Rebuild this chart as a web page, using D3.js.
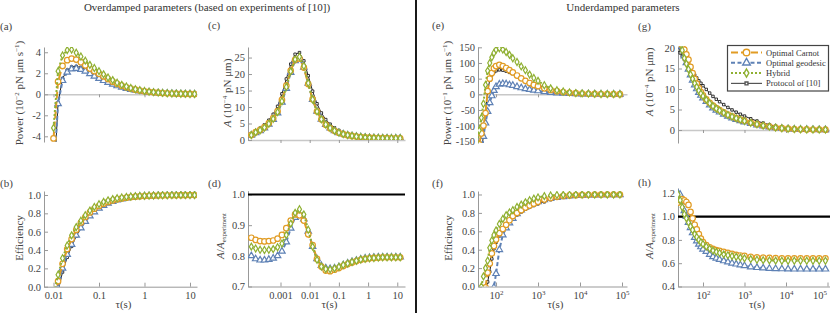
<!DOCTYPE html>
<html>
<head>
<meta charset="utf-8">
<title>Protocol comparison</title>
<style>
  body { margin: 0; background: #fff; }
  .tick text { font-size: 10.5px; fill: #444; }
  .axis-title { font-size: 11px; fill: #444; }
  .tag { font-size: 11px; fill: #444; }
  .head { font-size: 11px; fill: #333; }
  .legend text { font-size: 8.5px; fill: #333; }
</style>
</head>
<body>
<svg id="fig" width="830" height="313"></svg>
<script src="https://cdnjs.cloudflare.com/ajax/libs/d3/7.8.5/d3.min.js"></script>
<script>
"use strict";

var FONT = "Liberation Serif, DejaVu Serif, Times New Roman, serif";

// ---- overdamped: power and efficiency, tau in s ----
var tauOD = [0.01, 0.0126, 0.0158, 0.02, 0.025, 0.0316, 0.04, 0.05, 0.063, 0.079, 0.1, 0.126, 0.158, 0.2, 0.25, 0.316,
  0.4, 0.5, 0.63, 0.79, 1, 1.26, 1.58, 2, 2.5, 3.16, 4, 5, 6.3, 7.9, 10, 12.6];

var powerOD_carnot = [-4.2, 1.2, 2.7, 3.25, 3.4, 3.3, 3.05, 2.75, 2.45, 2.2, 1.95, 1.7, 1.45, 1.2, 1.0, 0.82,
  0.67, 0.55, 0.44, 0.36, 0.29, 0.23, 0.19, 0.15, 0.12, 0.095, 0.075, 0.06, 0.048, 0.038, 0.03, 0.024];
var powerOD_geodesic = [-8, -0.9, 1.3, 2.1, 2.4, 2.45, 2.35, 2.2, 1.95, 1.72, 1.5, 1.3, 1.12, 0.95, 0.8, 0.67,
  0.55, 0.45, 0.37, 0.3, 0.25, 0.2, 0.16, 0.13, 0.105, 0.085, 0.067, 0.053, 0.042, 0.034, 0.027, 0.021];
var powerOD_hybrid = [-3.2, 2.2, 3.7, 4.2, 4.25, 3.95, 3.6, 3.2, 2.8, 2.5, 2.2, 1.9, 1.6, 1.35, 1.1, 0.9,
  0.74, 0.6, 0.48, 0.39, 0.31, 0.25, 0.2, 0.16, 0.13, 0.1, 0.08, 0.063, 0.05, 0.04, 0.032, 0.025];
var powerOD_exp = [-9, -0.8, 1.5, 2.3, 2.6, 2.65, 2.55, 2.4, 2.15, 1.9, 1.7, 1.5, 1.3, 1.1, 0.92, 0.78,
  0.64, 0.52, 0.42, 0.34, 0.28, 0.22, 0.18, 0.145, 0.115, 0.092, 0.073, 0.058, 0.046, 0.037, 0.029, 0.023];

var effOD_carnot = [-0.2, 0.06, 0.25, 0.41, 0.52, 0.62, 0.7, 0.76, 0.81, 0.85, 0.88, 0.905, 0.925, 0.94, 0.953, 0.963,
  0.971, 0.977, 0.982, 0.986, 0.989, 0.991, 0.993, 0.994, 0.995, 0.996, 0.997, 0.997, 0.998, 0.998, 0.999, 0.999];
var effOD_geodesic = [-0.35, -0.02, 0.2, 0.35, 0.46, 0.56, 0.64, 0.71, 0.77, 0.815, 0.855, 0.885, 0.91, 0.93, 0.945, 0.957,
  0.967, 0.974, 0.98, 0.984, 0.988, 0.99, 0.992, 0.993, 0.994, 0.995, 0.996, 0.997, 0.997, 0.998, 0.998, 0.999];
var effOD_hybrid = [-0.1, 0.13, 0.31, 0.45, 0.56, 0.65, 0.72, 0.78, 0.83, 0.87, 0.9, 0.925, 0.942, 0.955, 0.965, 0.973,
  0.979, 0.984, 0.987, 0.99, 0.992, 0.994, 0.995, 0.996, 0.997, 0.997, 0.998, 0.998, 0.999, 0.999, 0.999, 0.999];
var effOD_exp = [-0.38, -0.05, 0.16, 0.32, 0.44, 0.55, 0.64, 0.71, 0.77, 0.82, 0.86, 0.89, 0.915, 0.935, 0.95, 0.961,
  0.97, 0.976, 0.981, 0.985, 0.988, 0.99, 0.992, 0.993, 0.994, 0.995, 0.996, 0.997, 0.997, 0.998, 0.998, 0.999];

// ---- overdamped: A and A/A_experiment ----
var tauAOD = [0.0001, 0.000141, 0.0002, 0.000282, 0.000398, 0.000562, 0.000794, 0.00112, 0.00158, 0.00224,
  0.00316, 0.00447, 0.00631, 0.00891, 0.0126, 0.0178, 0.0251, 0.0355, 0.0501, 0.0708,
  0.1, 0.141, 0.2, 0.282, 0.398, 0.562, 0.794, 1.12, 1.58, 2.24, 3.16, 4.47, 6.31, 8.91, 12.6];

var areaOD_exp = [1.8, 2.8, 3.6, 4.6, 6.0, 7.8, 10.2, 14.0, 18.5, 23.0, 26.0, 26.5, 24.0, 19.5, 14.8, 11.0, 8.2,
  6.2, 4.8, 3.7, 2.9, 2.3, 1.9, 1.6, 1.35, 1.15, 1.0, 0.9, 0.82, 0.76, 0.72, 0.69, 0.67, 0.66, 0.65];
var areaOD_carnot = [1.55, 2.39, 3.05, 3.9, 5.09, 6.63, 8.73, 12.15, 16.47, 21.05, 24.31, 24.7, 21.96, 16.97, 12.36,
  8.69, 6.27, 4.66, 3.6, 2.79, 2.2, 1.76, 1.47, 1.24, 1.06, 0.91, 0.79, 0.71, 0.65, 0.6, 0.57, 0.55, 0.53, 0.52, 0.52];
var areaOD_hybrid = [1.49, 2.31, 2.95, 3.77, 4.92, 6.41, 8.45, 11.76, 16.06, 20.82, 24.44, 25.23, 22.44, 17.26, 12.28,
  8.66, 6.27, 4.69, 3.63, 2.81, 2.22, 1.77, 1.47, 1.25, 1.06, 0.91, 0.79, 0.71, 0.65, 0.6, 0.57, 0.55, 0.53, 0.52, 0.52];
var areaOD_geodesic = [1.44, 2.21, 2.83, 3.62, 4.73, 6.18, 8.16, 11.41, 15.63, 20.47, 24.05, 24.78, 22.08, 17.16, 12.28,
  8.69, 6.3, 4.71, 3.64, 2.81, 2.22, 1.77, 1.47, 1.25, 1.06, 0.91, 0.79, 0.71, 0.65, 0.61, 0.57, 0.55, 0.53, 0.53, 0.52];

var ratioOD_carnot = [0.859, 0.852, 0.848, 0.847, 0.848, 0.85, 0.856, 0.868, 0.89, 0.915, 0.935, 0.932, 0.915, 0.87,
  0.835, 0.79, 0.765, 0.752, 0.75, 0.755, 0.76, 0.767, 0.773, 0.778, 0.783, 0.787, 0.79, 0.792, 0.793, 0.794,
  0.795, 0.795, 0.795, 0.795, 0.795];
var ratioOD_hybrid = [0.83, 0.824, 0.82, 0.819, 0.82, 0.822, 0.828, 0.84, 0.868, 0.905, 0.94, 0.952, 0.935, 0.885,
  0.83, 0.787, 0.765, 0.757, 0.756, 0.759, 0.764, 0.77, 0.775, 0.78, 0.784, 0.788, 0.79, 0.792, 0.793, 0.794,
  0.795, 0.795, 0.795, 0.795, 0.795];
var ratioOD_geodesic = [0.8, 0.79, 0.786, 0.786, 0.788, 0.792, 0.8, 0.815, 0.845, 0.89, 0.925, 0.935, 0.92, 0.88,
  0.83, 0.79, 0.768, 0.76, 0.758, 0.76, 0.764, 0.77, 0.776, 0.781, 0.785, 0.789, 0.792, 0.794, 0.795, 0.796,
  0.796, 0.796, 0.796, 0.796, 0.796];

// ---- underdamped ----
var tauUD = [25.1, 28.2, 31.6, 35.5, 39.8, 44.7, 50.1, 56.2, 63.1, 70.8, 79.4, 89.1, 100, 120, 145, 174, 209, 251,
  316, 398, 501, 631, 794, 1000, 1413, 1995, 2818, 3981, 5623, 7943, 11220, 15849, 22387, 31623, 44668, 63096, 89125];

var powerUD_carnot = [-500, -400, -320, -250, -160, -125, -100, -60, 10, 50, 68, 83, 90, 94, 90, 84, 77, 70, 60, 51,
  43, 36, 30, 26, 19, 14, 10, 7, 5, 3.5, 2.5, 1.8, 1.2, 0.9, 0.6, 0.4, 0.3];
var powerUD_geodesic = [-700, -580, -470, -380, -300, -220, -135, -92, -55, -27, -5, 12, 24, 32, 34, 33, 30, 28, 24,
  20.5, 17.5, 15, 13, 11, 8, 5.5, 4, 3, 2.2, 1.6, 1.2, 0.9, 0.6, 0.45, 0.3, 0.2, 0.15];
var powerUD_hybrid = [-420, -320, -230, -160, -115, -75, -30, 30, 75, 100, 118, 132, 142, 147, 143, 135, 126, 115, 103,
  89, 77, 63, 52, 43, 29, 19, 13, 9, 6, 4, 3, 2, 1.4, 1, 0.7, 0.5, 0.35];
var powerUD_exp = [-600, -500, -400, -320, -250, -190, -130, -55, 10, 45, 62, 71, 75, 78, 77, 74, 70, 66, 60, 53,
  46, 40, 34, 29, 23, 18, 13, 9.5, 7, 5, 3.5, 2.5, 1.8, 1.3, 0.9, 0.6, 0.4];

var effUD_carnot = [-2.5, -1.8, -1.3, -0.85, -0.55, -0.3, -0.12, -0.01, 0.15, 0.25, 0.36, 0.44, 0.51, 0.58, 0.625,
  0.67, 0.72, 0.765, 0.8, 0.83, 0.858, 0.88, 0.9, 0.92, 0.945, 0.962, 0.975, 0.984, 0.99, 0.993, 0.995, 0.997,
  0.998, 0.998, 0.999, 0.999, 0.999];
var effUD_geodesic = [-4, -3.2, -2.5, -1.9, -1.4, -1.0, -0.7, -0.48, -0.3, -0.18, -0.08, -0.01, 0.14, 0.4, 0.56,
  0.635, 0.69, 0.74, 0.79, 0.83, 0.862, 0.888, 0.908, 0.922, 0.942, 0.957, 0.968, 0.976, 0.983, 0.988, 0.991,
  0.994, 0.995, 0.996, 0.997, 0.998, 0.998];
var effUD_hybrid = [-2.0, -1.4, -0.9, -0.5, -0.15, 0.0, 0.11, 0.2, 0.28, 0.42, 0.5, 0.56, 0.61, 0.68, 0.735, 0.775,
  0.805, 0.83, 0.865, 0.89, 0.915, 0.938, 0.955, 0.968, 0.982, 0.99, 0.994, 0.996, 0.997, 0.998, 0.998, 0.999,
  0.999, 0.999, 0.999, 0.999, 0.999];
var effUD_exp = [-3, -2.2, -1.6, -1.1, -0.7, -0.42, -0.2, -0.06, 0.05, 0.16, 0.3, 0.41, 0.48, 0.55, 0.61, 0.655,
  0.7, 0.735, 0.778, 0.81, 0.84, 0.862, 0.88, 0.898, 0.92, 0.943, 0.96, 0.973, 0.982, 0.988, 0.992, 0.995,
  0.996, 0.997, 0.998, 0.998, 0.999];

var areaUD_exp = [19.5, 18.8, 18.0, 17.2, 16.4, 15.6, 14.8, 14.1, 13.4, 12.7, 12.0, 11.4, 10.8, 9.9, 9.0, 8.2, 7.5,
  6.9, 6.2, 5.5, 4.9, 4.35, 3.85, 3.4, 2.75, 2.2, 1.7, 1.3, 0.95, 0.7, 0.5, 0.36, 0.27, 0.21, 0.17, 0.15, 0.13];
var areaUD_carnot = [21.84, 21.43, 20.7, 19.61, 18.45, 17.16, 15.39, 13.89, 12.46, 11.3, 10.2, 9.23, 8.42, 7.47,
  6.63, 5.92, 5.34, 4.86, 4.32, 3.78, 3.33, 2.92, 2.56, 2.25, 1.8, 1.43, 1.1, 0.84, 0.61, 0.45, 0.32, 0.23, 0.17,
  0.13, 0.11, 0.096, 0.083];
var areaUD_hybrid = [23.2, 21.43, 19.44, 17.54, 16.15, 14.82, 13.54, 12.48, 11.39, 10.48, 9.6, 8.89, 8.26, 7.36,
  6.53, 5.81, 5.23, 4.75, 4.19, 3.67, 3.24, 2.85, 2.49, 2.18, 1.75, 1.39, 1.06, 0.81, 0.59, 0.43, 0.31, 0.22, 0.17,
  0.13, 0.11, 0.093, 0.081];
var areaUD_geodesic = [23.4, 22.37, 20.34, 18.06, 16.4, 14.82, 13.39, 12.13, 10.99, 10.03, 9.14, 8.44, 7.78, 6.93,
  6.08, 5.37, 4.82, 4.36, 3.84, 3.36, 2.94, 2.58, 2.25, 1.97, 1.56, 1.24, 0.95, 0.72, 0.53, 0.39, 0.28, 0.2, 0.15,
  0.12, 0.093, 0.082, 0.071];

var ratioUD_carnot = [1.12, 1.14, 1.15, 1.14, 1.125, 1.1, 1.04, 0.985, 0.93, 0.89, 0.85, 0.81, 0.78, 0.755, 0.737,
  0.722, 0.712, 0.705, 0.697, 0.688, 0.68, 0.672, 0.666, 0.662, 0.655, 0.65, 0.647, 0.645, 0.643, 0.642, 0.642,
  0.642, 0.642, 0.642, 0.642, 0.642, 0.642];
var ratioUD_hybrid = [1.19, 1.14, 1.08, 1.02, 0.985, 0.95, 0.915, 0.885, 0.85, 0.825, 0.8, 0.78, 0.765, 0.743, 0.725,
  0.708, 0.697, 0.688, 0.676, 0.668, 0.661, 0.655, 0.648, 0.642, 0.635, 0.63, 0.626, 0.624, 0.622, 0.621, 0.621,
  0.621, 0.621, 0.621, 0.621, 0.621, 0.621];
var ratioUD_geodesic = [1.2, 1.19, 1.13, 1.05, 1.0, 0.95, 0.905, 0.86, 0.82, 0.79, 0.762, 0.74, 0.72, 0.7, 0.675,
  0.655, 0.643, 0.632, 0.62, 0.61, 0.6, 0.592, 0.585, 0.578, 0.568, 0.562, 0.558, 0.555, 0.553, 0.551, 0.55,
  0.549, 0.549, 0.549, 0.549, 0.549, 0.549];

// tick values
var ticksTauOD = [0.01, 0.1, 1, 10];
var ticksTauA = [0.001, 0.01, 0.1, 1, 10];
var ticksTauUD = [100, 1000, 10000, 100000];
var ticksPowerOD = [-4, -2, 0, 2, 4];
var ticksPowerUD = [-150, -100, -50, 0, 50, 100, 150];
var ticksEff = [0, 0.2, 0.4, 0.6, 0.8, 1];
var ticksAreaOD = [0, 5, 10, 15, 20, 25];
var ticksAreaUD = [0, 5, 10, 15, 20];
var ticksRatioOD = [0.7, 0.8, 0.9, 1];
var ticksRatioUD = [0.4, 0.6, 0.8, 1, 1.2];

// line styles
var styles = {
  exp:      {name: "Protocol of [10]", color: "#222222", dash: null,    width: 1, symbol: d3.symbolSquare,   size: 6},
  geodesic: {name: "Optimal geodesic", color: "#5e81b5", dash: "4,2.5", width: 2, symbol: d3.symbolTriangle, size: 18},
  carnot:   {name: "Optimal Carnot",   color: "#e19c24", dash: "7,3",   width: 2, symbol: d3.symbolCircle,   size: 24},
  hybrid:   {name: "Hybrid",           color: "#8fb032", dash: "2,2",   width: 2, symbol: d3.symbolDiamond,  size: 14}
};
var drawOrder = ["exp", "geodesic", "carnot", "hybrid"];
var legendOrder = ["carnot", "geodesic", "hybrid", "exp"];

var svg = d3.select("#fig").attr("font-family", FONT);

// writes text with italic / superscript / subscript pieces
function richText(sel, parts) {
  var shift = 0;
  parts.forEach(function(pt) {
    var target = pt.s === "sup" ? -4 : (pt.s === "sub" ? 2.5 : 0);
    var ts = sel.append("tspan").text(pt.t).attr("dy", target - shift);
    shift = target;
    if (pt.s) ts.attr("font-size", pt.s === "sub" ? "6.5px" : "7px");
    if (pt.i) ts.attr("font-style", "italic");
  });
}

function drawPanel(p) {
  var x = d3.scaleLog().domain(p.xDomain).range([p.left, p.right]);
  var y = d3.scaleLinear().domain(p.yDomain).range([p.bottom, p.top]);

  var clipId = "clip-" + p.tag;
  svg.append("clipPath").attr("id", clipId)
    .append("rect")
      .attr("x", p.left).attr("y", p.top)
      .attr("width", p.right - p.left).attr("height", p.bottom - p.top);

  // x axis: either along y = 0 (no labels) or at the bottom
  var atZero = p.xAxisAt !== undefined;
  var xAxisY = atZero ? y(p.xAxisAt) : p.bottom;
  var gx = svg.append("g")
      .attr("transform", "translate(0," + xAxisY + ")")
      .call(d3.axisBottom(x)
        .tickValues(p.xTicks)
        .tickSizeInner(atZero ? 3 : -4)
        .tickSizeOuter(0)
        .tickPadding(5)
        .tickFormat(atZero ? "" : p.xFormat))
      .attr("font-family", FONT).attr("font-size", null);
  gx.select(".domain").attr("stroke", atZero ? "#c8c8c8" : "#999").attr("stroke-width", atZero ? 1.5 : 1);
  gx.selectAll(".tick line").attr("stroke", "#999");
  if (!atZero && p.powerTicks) {
    gx.selectAll(".tick text").text(null).each(function(d) {
      var t = d3.select(this);
      t.append("tspan").text("10");
      t.append("tspan").attr("dy", -4).attr("font-size", "7px").text(Math.round(Math.log10(d)));
      // keep the last label inside the picture
      if (x(d) > 822) t.attr("dx", -8);
    });
  }

  // y axis
  var gy = svg.append("g")
      .attr("transform", "translate(" + p.left + ",0)")
      .call(d3.axisLeft(y)
        .tickValues(p.yTicks)
        .tickSizeInner(-4)
        .tickSizeOuter(0)
        .tickPadding(3)
        .tickFormat(p.yFormat))
      .attr("font-family", FONT).attr("font-size", null);
  gy.select(".domain").attr("stroke", "#999");
  gy.selectAll(".tick line").attr("stroke", "#999");

  var plot = svg.append("g").attr("clip-path", "url(#" + clipId + ")");

  // reference line of the experimental protocol (ratio panels)
  if (p.refLine !== undefined) {
    plot.append("line")
      .attr("x1", p.left).attr("x2", p.right)
      .attr("y1", y(p.refLine)).attr("y2", y(p.refLine))
      .attr("stroke", "#000").attr("stroke-width", 2.2);
  }

  var line = d3.line()
      .x(function(d) { return x(d[0]); })
      .y(function(d) { return y(d[1]); });

  drawOrder.forEach(function(key) {
    var vals = p.series[key];
    if (!vals) return;
    var st = styles[key];
    var pts = vals.map(function(v, i) { return [p.tau[i], v]; });
    plot.append("path")
      .datum(pts)
      .attr("fill", "none")
      .attr("stroke", st.color)
      .attr("stroke-width", st.width)
      .attr("stroke-dasharray", st.dash)
      .attr("d", line);
    plot.selectAll(null)
      .data(pts)
      .enter().append("path")
        .attr("transform", function(d) { return "translate(" + x(d[0]) + "," + y(d[1]) + ")"; })
        .attr("d", d3.symbol().type(st.symbol).size(st.size))
        .attr("fill", "#fff")
        .attr("stroke", st.color)
        .attr("stroke-width", key === "exp" ? 0.9 : 1.2);
  });

  // axis titles and panel tag
  var yt = svg.append("text")
      .attr("class", "axis-title")
      .attr("text-anchor", "middle")
      .attr("transform", "translate(" + p.yTitlePos[0] + "," + p.yTitlePos[1] + ") rotate(-90)");
  richText(yt, p.yTitle);

  if (!atZero) {
    svg.append("text")
      .attr("class", "axis-title")
      .attr("text-anchor", "middle")
      .attr("x", (p.left + p.right) / 2 + 3)
      .attr("y", 308)
      .text("τ(s)");
  }

  svg.append("text")
    .attr("class", "tag")
    .attr("x", p.tagPos[0]).attr("y", p.tagPos[1])
    .text("(" + p.tag + ")");
}

var fmtPlain = function(d) { return String(d); };
var fmt1 = d3.format(".1f");

var powerTitle = function(e) {
  return [{t: "Power (10"}, {t: "−" + e, s: "sup"}, {t: " pN μm s"}, {t: "−1", s: "sup"}, {t: ")"}];
};
var areaTitle = [{t: "A", i: true}, {t: " (10"}, {t: "−4", s: "sup"}, {t: " pN μm)"}];
var ratioTitle = [{t: "A", i: true}, {t: "/"}, {t: "A", i: true}, {t: "experiment", s: "sub"}];
var effTitle = [{t: "Efficiency"}];

var domTauOD = [0.00618, 14.26];
var domTauA = [0.000077, 18.4];
var domTauUD1 = [37.2, 131500];
var domTauUD2 = [25.0, 114800];

// (a)
drawPanel({tag: "a", left: 44, right: 197, top: 47, bottom: 142,
  xDomain: domTauOD, yDomain: [-4.54, 4.5], xAxisAt: 0,
  xTicks: ticksTauOD, yTicks: ticksPowerOD, yFormat: fmtPlain,
  tau: tauOD, yTitle: powerTitle(2), yTitlePos: [22.5, 93], tagPos: [0, 30],
  series: {exp: powerOD_exp, geodesic: powerOD_geodesic, carnot: powerOD_carnot, hybrid: powerOD_hybrid}});

// (b)
drawPanel({tag: "b", left: 44, right: 197, top: 191, bottom: 286.7,
  xDomain: domTauOD, yDomain: [0, 1.0436],
  xTicks: ticksTauOD, xFormat: fmtPlain, yTicks: ticksEff, yFormat: fmt1,
  tau: tauOD, yTitle: effTitle, yTitlePos: [22.5, 238], tagPos: [0, 187],
  series: {exp: effOD_exp, geodesic: effOD_geodesic, carnot: effOD_carnot, hybrid: effOD_hybrid}});

// (c)
drawPanel({tag: "c", left: 248, right: 405, top: 47, bottom: 140,
  xDomain: domTauA, yDomain: [0, 28.2], xAxisAt: 0,
  xTicks: ticksTauA, yTicks: ticksAreaOD, yFormat: fmtPlain,
  tau: tauAOD, yTitle: areaTitle, yTitlePos: [231, 93], tagPos: [208, 29],
  series: {exp: areaOD_exp, geodesic: areaOD_geodesic, carnot: areaOD_carnot, hybrid: areaOD_hybrid}});

// (d)
drawPanel({tag: "d", left: 248, right: 405, top: 190.7, bottom: 286.5,
  xDomain: domTauA, yDomain: [0.7, 1.0124], refLine: 1,
  xTicks: ticksTauA, xFormat: fmtPlain, yTicks: ticksRatioOD, yFormat: fmt1,
  tau: tauAOD, yTitle: ratioTitle, yTitlePos: [223.5, 236], tagPos: [208, 187],
  series: {geodesic: ratioOD_geodesic, carnot: ratioOD_carnot, hybrid: ratioOD_hybrid}});

// (e)
drawPanel({tag: "e", left: 478, right: 627, top: 47, bottom: 143,
  xDomain: domTauUD1, yDomain: [-155.4, 151], xAxisAt: 0,
  xTicks: ticksTauUD, yTicks: ticksPowerUD, yFormat: fmtPlain,
  tau: tauUD, yTitle: powerTitle(1), yTitlePos: [451, 93], tagPos: [432, 29],
  series: {exp: powerUD_exp, geodesic: powerUD_geodesic, carnot: powerUD_carnot, hybrid: powerUD_hybrid}});

// (f)
drawPanel({tag: "f", left: 478, right: 627, top: 191, bottom: 286.5,
  xDomain: domTauUD1, yDomain: [0, 1.038], powerTicks: true,
  xTicks: ticksTauUD, xFormat: fmtPlain, yTicks: ticksEff, yFormat: fmt1,
  tau: tauUD, yTitle: effTitle, yTitlePos: [451.5, 238], tagPos: [432, 187],
  series: {exp: effUD_exp, geodesic: effUD_geodesic, carnot: effUD_carnot, hybrid: effUD_hybrid}});

// (g)
drawPanel({tag: "g", left: 678, right: 830, top: 46, bottom: 143,
  xDomain: domTauUD2, yDomain: [-3.17, 20.49], xAxisAt: 0,
  xTicks: ticksTauUD, yTicks: ticksAreaUD, yFormat: fmtPlain,
  tau: tauUD, yTitle: areaTitle, yTitlePos: [652.5, 82], tagPos: [638, 30],
  series: {exp: areaUD_exp, geodesic: areaUD_geodesic, carnot: areaUD_carnot, hybrid: areaUD_hybrid}});

// (h)
drawPanel({tag: "h", left: 678, right: 830, top: 188, bottom: 286.5,
  xDomain: domTauUD2, yDomain: [0.4, 1.2455], refLine: 1, powerTicks: true,
  xTicks: ticksTauUD, xFormat: fmtPlain, yTicks: ticksRatioUD, yFormat: fmt1,
  tau: tauUD, yTitle: ratioTitle, yTitlePos: [652.5, 236], tagPos: [638, 186],
  series: {geodesic: ratioUD_geodesic, carnot: ratioUD_carnot, hybrid: ratioUD_hybrid}});

// headings and divider
svg.append("text").attr("class", "head").attr("text-anchor", "middle")
  .attr("x", 207).attr("y", 11).text("Overdamped parameters (based on experiments of [10])");
svg.append("text").attr("class", "head").attr("text-anchor", "middle")
  .attr("x", 623).attr("y", 11).text("Underdamped parameters");
svg.append("line")
  .attr("x1", 416).attr("x2", 416).attr("y1", 0).attr("y2", 313)
  .attr("stroke", "#000").attr("stroke-width", 1.8);

// legend inside (g)
var legend = svg.append("g").attr("class", "legend");
legend.append("rect")
  .attr("x", 727.5).attr("y", 45.5).attr("width", 101).attr("height", 45.5)
  .attr("fill", "#fff").attr("stroke", "#444").attr("stroke-width", 1.2);
legendOrder.forEach(function(key, i) {
  var st = styles[key];
  var ly = 52.5 + i * 10.3;
  legend.append("line")
    .attr("x1", 731).attr("x2", 762).attr("y1", ly).attr("y2", ly)
    .attr("stroke", key === "exp" ? "#555" : st.color)
    .attr("stroke-width", key === "exp" ? 1.2 : st.width)
    .attr("stroke-dasharray", st.dash);
  legend.append("path")
    .attr("transform", "translate(746.5," + ly + ")")
    .attr("d", d3.symbol().type(st.symbol).size(st.size * 1.4))
    .attr("fill", "#fff")
    .attr("stroke", key === "exp" ? "#555" : st.color)
    .attr("stroke-width", 1.4);
  legend.append("text")
    .attr("x", 766).attr("y", ly + 3)
    .text(st.name);
});
</script>
</body>
</html>
